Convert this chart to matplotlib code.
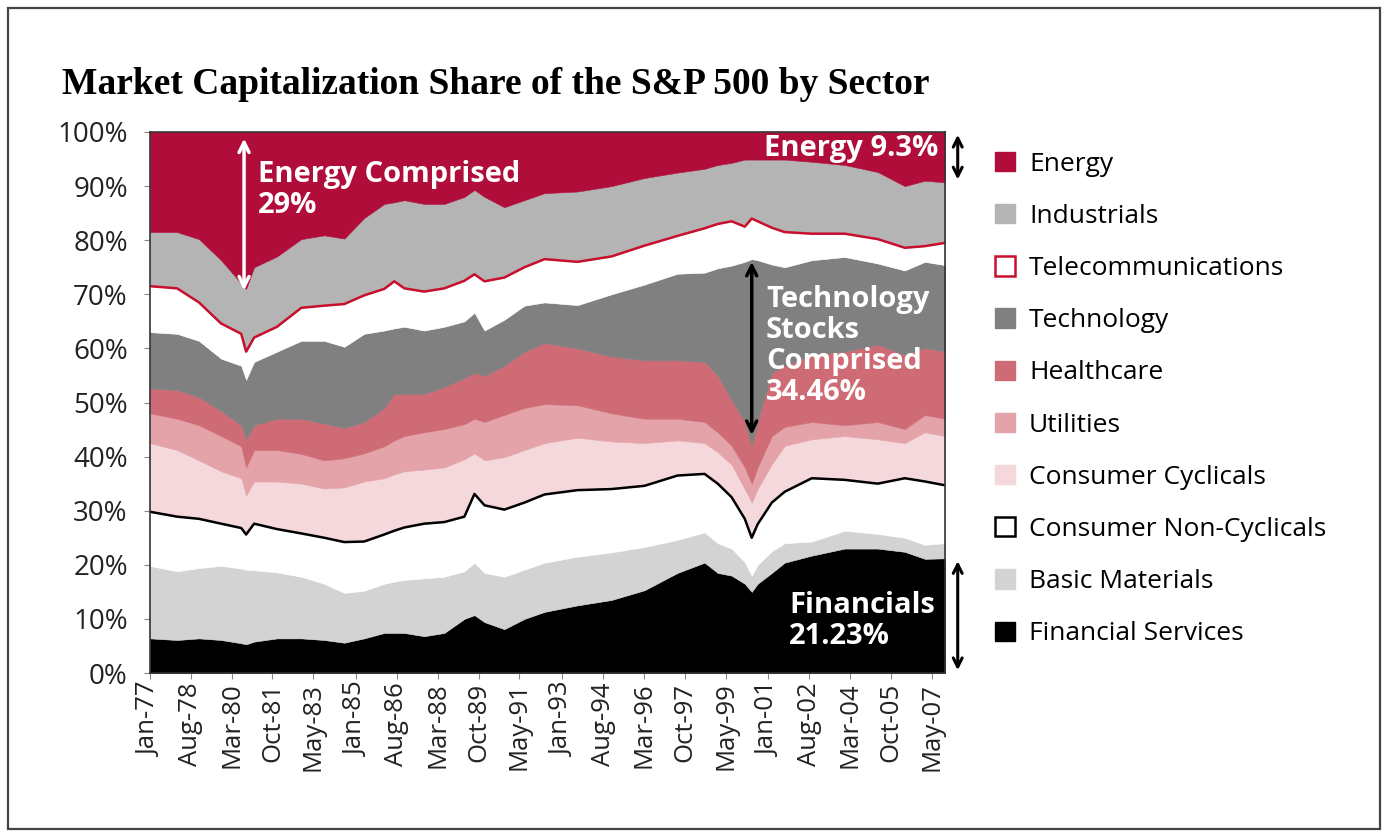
import numpy as np
import matplotlib
matplotlib.use("Agg")
import matplotlib.pyplot as plt
from matplotlib.patches import Patch, Rectangle

# sample dates (decimal years)
years = [1977.00, 1978.05, 1978.90, 1979.76, 1980.54, 1980.73, 1981.04, 1981.93,
         1982.87, 1983.76, 1984.54, 1985.31, 1986.09, 1986.48, 1986.87, 1987.64,
         1988.42, 1989.20, 1989.59, 1989.98, 1990.75, 1991.53, 1992.31, 1993.59,
         1994.91, 1996.19, 1997.47, 1998.52, 1999.03, 1999.57, 2000.08, 2000.35,
         2000.58, 2001.13, 2001.63, 2002.68, 2003.96, 2005.24, 2006.29, 2007.07,
         2007.85]

# sector shares in percent (bottom of the stack first)
financial = [6.4, 6.1, 6.4, 6.1, 5.5, 5.3, 5.8, 6.4, 6.4, 6.1, 5.6, 6.4, 7.4, 7.4,
             7.4, 6.8, 7.4, 10.0, 10.7, 9.4, 8.1, 10.0, 11.3, 12.5, 13.5, 15.3,
             18.5, 20.4, 18.5, 18.0, 16.5, 15.0, 16.5, 18.5, 20.4, 21.7, 23.0,
             23.0, 22.4, 21.1, 21.2]
basic_materials = [13.4, 12.7, 13.0, 13.7, 13.8, 13.8, 13.2, 12.2, 11.4, 10.4, 9.2,
                   8.8, 9.1, 9.5, 9.8, 10.7, 10.4, 8.8, 9.7, 9.1, 9.7, 9.1, 9.1,
                   9.0, 8.8, 8.0, 6.1, 5.6, 5.5, 5.0, 4.0, 3.0, 3.5, 4.0, 3.6, 2.6,
                   3.3, 2.7, 2.6, 2.6, 2.8]
non_cyclicals = [10.0, 10.1, 9.1, 7.8, 7.5, 6.5, 8.6, 8.0, 8.0, 8.5, 9.4, 9.1, 9.1,
                 9.4, 9.7, 10.1, 10.1, 10.1, 12.7, 12.5, 12.4, 12.4, 12.6, 12.3,
                 11.7, 11.3, 11.9, 10.8, 11.0, 9.5, 8.0, 7.0, 7.5, 9.0, 9.5, 11.7,
                 9.4, 9.3, 11.0, 11.7, 10.7]
cyclicals = [12.7, 12.3, 10.8, 9.7, 9.2, 7.2, 7.8, 8.8, 9.2, 9.1, 10.1, 11.1, 10.4,
             10.4, 10.4, 10.0, 10.1, 10.6, 7.5, 8.3, 9.7, 9.7, 9.5, 9.7, 8.8, 7.9,
             6.5, 5.7, 5.8, 6.0, 5.5, 6.5, 6.5, 7.1, 8.5, 7.2, 8.1, 8.2, 6.5, 9.1,
             9.1]
utilities = [5.5, 5.8, 6.5, 6.5, 5.9, 5.2, 5.8, 5.8, 5.5, 5.2, 5.4, 5.2, 5.9, 6.3,
             6.5, 6.9, 7.1, 6.5, 6.4, 7.1, 7.8, 7.8, 7.2, 6.0, 5.2, 4.5, 4.0, 3.9,
             3.7, 3.5, 4.0, 3.5, 4.0, 5.2, 3.5, 3.2, 2.0, 3.2, 2.6, 3.2, 3.2]
healthcare = [4.6, 5.3, 5.2, 4.6, 3.9, 5.2, 4.6, 5.8, 6.5, 6.8, 5.6, 5.8, 7.1, 8.6,
              7.8, 7.1, 7.8, 8.5, 8.5, 8.5, 9.1, 10.4, 11.3, 10.5, 10.5, 10.8,
              10.8, 11.1, 10.5, 8.5, 8.5, 7.0, 8.5, 11.7, 11.3, 12.4, 13.6, 14.3,
              13.7, 12.4, 12.4]
technology = [10.4, 10.4, 10.4, 9.7, 11.0, 11.0, 11.7, 12.4, 14.4, 15.3, 15.0, 16.3,
              14.3, 12.1, 12.4, 11.7, 11.1, 10.5, 11.1, 8.4, 8.5, 8.5, 7.5, 8.0,
              11.5, 14.0, 16.0, 16.5, 19.8, 24.8, 29.5, 34.5, 29.8, 20.0, 18.2,
              17.5, 17.5, 15.0, 15.6, 15.9, 16.0]
telecom = [8.5, 8.4, 7.1, 6.5, 5.9, 5.2, 4.5, 4.6, 6.1, 6.5, 7.9, 7.1, 7.7, 8.7,
           7.1, 7.2, 7.1, 7.5, 7.1, 9.1, 7.8, 7.1, 8.0, 8.0, 7.0, 7.2, 7.0, 8.2,
           8.2, 8.2, 6.5, 7.5, 7.2, 6.8, 6.5, 4.9, 4.3, 4.5, 4.2, 2.9, 4.1]
industrials = [10.0, 10.4, 11.7, 11.7, 9.3, 11.6, 13.0, 13.0, 12.7, 13.0, 12.1, 14.3,
               15.7, 14.6, 16.3, 16.2, 15.6, 15.5, 15.6, 15.6, 13.0, 12.4, 12.2,
               13.0, 13.0, 12.5, 11.7, 11.0, 10.9, 10.8, 12.4, 10.9, 11.4, 12.6,
               13.4, 13.3, 12.7, 12.4, 11.4, 12.1, 11.2]
energy = [18.5, 18.5, 19.8, 23.7, 28.0, 29.0, 25.0, 23.0, 19.8, 19.1, 19.7, 15.9,
          13.3, 13.0, 12.6, 13.3, 13.3, 12.0, 10.7, 12.0, 13.9, 12.6, 11.3, 11.0,
          10.0, 8.5, 7.5, 6.8, 6.1, 5.7, 5.1, 5.1, 5.1, 5.1, 5.1, 5.5, 6.1, 7.4,
          10.0, 9.0, 9.3]

sector_names = ["Financial Services", "Basic Materials", "Consumer Non-Cyclicals",
                "Consumer Cyclicals", "Utilities", "Healthcare", "Technology",
                "Telecommunications", "Industrials", "Energy"]
sector_colors = ["#000000", "#D3D3D3", "#FFFFFF", "#F4D8DB", "#E4A3A9", "#CF6B75",
                 "#808080", "#FFFFFF", "#B4B4B4", "#B00D3A"]

tick_years = [1977.0, 1978.583, 1980.167, 1981.75, 1983.333, 1985.0, 1986.583,
              1988.167, 1989.75, 1991.333, 1993.0, 1994.583, 1996.167, 1997.75,
              1999.333, 2001.0, 2002.583, 2004.167, 2005.75, 2007.333]
tick_labels = ["Jan-77", "Aug-78", "Mar-80", "Oct-81", "May-83", "Jan-85", "Aug-86",
               "Mar-88", "Oct-89", "May-91", "Jan-93", "Aug-94", "Mar-96", "Oct-97",
               "May-99", "Jan-01", "Aug-02", "Mar-04", "Oct-05", "May-07"]

RED = "#C8102E"
W, H = 1388, 835

series = np.array([financial, basic_materials, non_cyclicals, cyclicals, utilities,
                   healthcare, technology, telecom, industrials, energy], dtype=float)
series = series / series.sum(axis=0) * 100.0
tops = np.cumsum(series, axis=0)

fig = plt.figure(figsize=(W / 100, H / 100), dpi=100)
fig.patches.append(Rectangle((8 / W, 6 / H), 1 - 16 / W, 1 - 14 / H,
                             transform=fig.transFigure, fill=False,
                             edgecolor="#444444", linewidth=1.6))

ax = fig.add_axes([150 / W, 1 - 673 / H, 795 / W, 541 / H])
polys = ax.stackplot(years, series, colors=sector_colors)
for p, c in zip(polys, sector_colors):
    p.set_edgecolor(c)
    p.set_linewidth(0.4)

# outline lines on the white bands
ax.plot(years, tops[2], color="black", lw=1.8)
ax.plot(years, tops[7], color=RED, lw=1.8)

ax.set_xlim(years[0], years[-1])
ax.set_ylim(0, 100)
ax.set_yticks(range(0, 101, 10))
ax.set_yticklabels([f"{v}%" for v in range(0, 101, 10)], family="Open Sans",
                   size=20, color="#222222")
ax.set_xticks(tick_years)
ax.set_xticklabels(tick_labels, rotation=90, family="Open Sans", size=18.5,
                   color="#222222")
ax.tick_params(axis="y", length=4, pad=12, color="#888888")
ax.tick_params(axis="x", length=4, pad=3, color="#888888")
for s in ax.spines.values():
    s.set_color("#333333")
    s.set_linewidth(1.2)

ann_font = dict(family="Open Sans", weight="bold", size=21, color="white")

# energy peak annotation
ax.annotate("", xy=(1980.65, 99.3), xytext=(1980.65, 70.2),
            arrowprops=dict(arrowstyle="<->", color="white", lw=2.5,
                            mutation_scale=18))
ax.text(1981.2, 94.8, "Energy Comprised\n29%", va="top", ha="left",
        linespacing=1.1, **ann_font)
ax.text(2007.6, 99.6, "Energy 9.3%", va="top", ha="right", **ann_font)

# technology peak annotation
ax.annotate("", xy=(2000.35, 76.5), xytext=(2000.35, 43.5),
            arrowprops=dict(arrowstyle="<->", color="black", lw=2.5,
                            mutation_scale=18))
ax.text(2000.9, 71.8, "Technology\nStocks\nComprised\n34.46%", va="top",
        ha="left", linespacing=1.1, **ann_font)

ax.text(2001.8, 15.2, "Financials\n21.23%", va="top", ha="left",
        linespacing=1.1, **ann_font)

# brackets outside the plot on the right
side = ax.get_yaxis_transform()
ax.annotate("", xy=(1.016, 100), xytext=(1.016, 90.7), xycoords=side,
            textcoords=side, annotation_clip=False,
            arrowprops=dict(arrowstyle="<->", color="black", lw=2.2,
                            mutation_scale=16))
ax.annotate("", xy=(1.016, 21.2), xytext=(1.016, 0), xycoords=side,
            textcoords=side, annotation_clip=False,
            arrowprops=dict(arrowstyle="<->", color="black", lw=2.2,
                            mutation_scale=16))

# legend, top of stack first
handles = []
for name, c in zip(sector_names[::-1], sector_colors[::-1]):
    if name == "Telecommunications":
        handles.append(Patch(facecolor="white", edgecolor=RED, lw=1.8, label=name))
    elif name == "Consumer Non-Cyclicals":
        handles.append(Patch(facecolor="white", edgecolor="black", lw=1.8, label=name))
    else:
        handles.append(Patch(facecolor=c, edgecolor=c, label=name))
fig.legend(handles=handles, loc="upper left", bbox_to_anchor=(971 / W, 1 - 128 / H),
           frameon=False, handlelength=0.75, handleheight=0.75, handletextpad=0.55,
           labelspacing=1.03, prop=dict(family="Open Sans", size=19))

fig.text(62 / W, 1 - 94 / H, "Market Capitalization Share of the S&P 500 by Sector",
         family="Liberation Serif", weight="bold", size=27, va="baseline",
         ha="left", color="black")

fig.savefig("out.png", dpi=100, facecolor="white")
